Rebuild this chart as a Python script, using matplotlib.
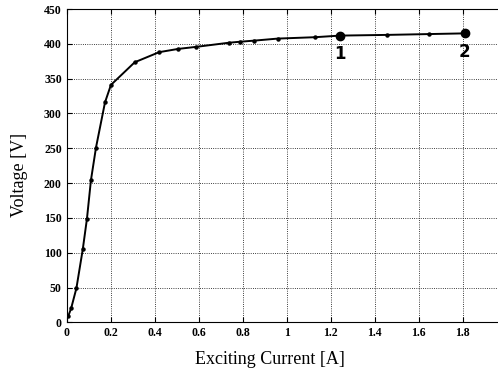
import matplotlib
matplotlib.use('Agg')
import matplotlib.pyplot as plt

# magnetisation curve
current = [0.007, 0.02, 0.044, 0.073, 0.092, 0.11, 0.133, 0.174, 0.201, 0.309,
           0.42, 0.507, 0.588, 0.736, 0.788, 0.853, 0.959, 1.129, 1.242, 1.455,
           1.648, 1.81]
voltage = [9, 20, 49, 105, 149, 204, 251, 316, 341, 373.5,
           388, 392.7, 395.6, 401.5, 403, 404.6, 407.5, 409.5, 411.8, 412.8,
           414, 415]

# marked operating points
mark_labels = ['1', '2']
mark_current = [1.242, 1.81]
mark_voltage = [411.8, 415]

xticks = [0, 0.2, 0.4, 0.6, 0.8, 1, 1.2, 1.4, 1.6, 1.8, 2]
xticklabels = ['0', '0.2', '0.4', '0.6', '0.8', '1', '1.2', '1.4', '1.6', '1.8', '2']
yticks = list(range(0, 451, 50))

plt.rcParams['font.family'] = ['Liberation Serif', 'DejaVu Serif']

fig = plt.figure(figsize=(4.98, 3.75), dpi=100)
ax = fig.add_axes([0.134, 0.1405, 0.8835, 0.8355])

ax.plot(current, voltage, color='black', lw=1.4, marker='o', ms=2.2)
ax.plot(mark_current, mark_voltage, 'o', color='black', ms=6)
for lab, x, y in zip(mark_labels, mark_current, mark_voltage):
    ax.annotate(lab, (x, y), xytext=(0, -7), textcoords='offset points',
                ha='center', va='top', fontsize=12, fontweight='bold',
                family='DejaVu Sans')

ax.set_xlim(0, 2)
ax.set_ylim(0, 450)
ax.set_xticks(xticks)
ax.set_xticklabels(xticklabels)
ax.set_yticks(yticks)
ax.tick_params(direction='in', top=True, right=True, length=3.5, labelsize=8.5)
for t in ax.get_xticklabels() + ax.get_yticklabels():
    t.set_fontweight('bold')
ax.grid(True, color='black', linestyle=':', linewidth=0.6)

ax.set_xlabel('Exciting Current [A]', fontsize=13)
ax.set_ylabel('Voltage [V]', fontsize=13)
ax.xaxis.set_label_coords(0.462, -0.09)
ax.yaxis.set_label_coords(-0.088, 0.47)

fig.savefig('out.png', dpi=100)
